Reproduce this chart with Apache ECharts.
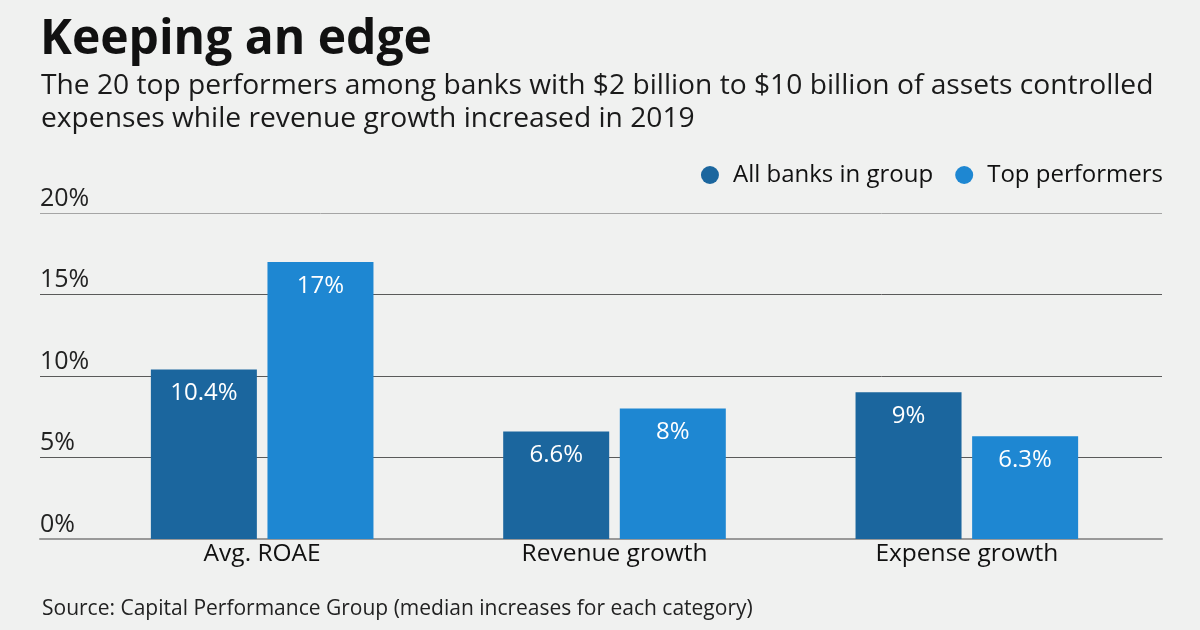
<!DOCTYPE html>
<html><head><meta charset="utf-8">
<script src="https://cdn.jsdelivr.net/npm/echarts@6/dist/echarts.min.js"></script>
<style>html,body{margin:0;padding:0;background:#f0f1f0;}#c{width:1200px;height:630px;}</style>
</head><body><div id="c"></div>
<script>
const categories = ['Avg. ROAE', 'Revenue growth', 'Expense growth'];
const allBanks = [10.4, 6.6, 9];
const topPerformers = [17, 8, 6.3];
const allBanksLabels = ['10.4%', '6.6%', '9%'];
const topLabels = ['17%', '8%', '6.3%'];
const seriesNames = ['All banks in group', 'Top performers'];

const FONT = '"Open Sans", "Noto Sans", sans-serif';
const chart = echarts.init(document.getElementById('c'));
chart.setOption({
  backgroundColor: '#f0f1f0',
  animation: false,
  textStyle: { fontFamily: FONT },
  title: [
    { text: 'Keeping an edge', left: 35, top: 11, textStyle: { fontFamily: FONT, fontSize: 48, fontWeight: 'bold', color: '#111' } },
    { text: 'The 20 top performers among banks with $2 billion to $10 billion of assets controlled\nexpenses while revenue growth increased in 2019', left: 36, top: 64, textStyle: { fontFamily: FONT, fontSize: 28.2, fontWeight: 'normal', color: '#1a1a1a', lineHeight: 33 } },
    { text: 'Source: Capital Performance Group (median increases for each category)', left: 37, top: 594, textStyle: { fontFamily: FONT, fontSize: 21, fontWeight: 'normal', color: '#222' } }
  ],
  legend: {
    right: 32, top: 158, icon: 'circle', itemWidth: 18, itemHeight: 18, itemGap: 22,
    textStyle: { fontFamily: FONT, fontSize: 24, color: '#111', padding: [0, 0, 0, 9] },
    data: seriesNames
  },
  color: ['#1b669e', '#1e87d2'],
  grid: [
    { left: 40, right: 38, top: 213, bottom: 91 },
    { left: 86, right: 57, top: 213, bottom: 91 }
  ],
  xAxis: [
    { gridIndex: 0, type: 'category', data: [''], axisLine: { show: true, lineStyle: { color: '#999', width: 2 } }, axisTick: { show: false }, axisLabel: { show: false } },
    { gridIndex: 1, type: 'category', data: categories, axisLine: { show: false }, axisTick: { show: false },
      axisLabel: { fontFamily: FONT, fontSize: 24.5, color: '#111', margin: 3 } }
  ],
  yAxis: [
    { gridIndex: 0, type: 'value', min: 0, max: 20, interval: 5,
      axisLine: { show: false }, axisTick: { show: false },
      axisLabel: { inside: true, margin: 0, verticalAlign: 'bottom', padding: [0, 0, 2, 0], formatter: '{value}%', fontFamily: FONT, fontSize: 25, color: '#222' },
      splitLine: { show: true, lineStyle: { color: ['#999', '#5a5a5a', '#5a5a5a', '#5a5a5a', '#a5a5a5'], width: 1 } } },
    { gridIndex: 1, type: 'value', min: 0, max: 20, interval: 5, show: false, splitLine: { show: false } }
  ],
  series: [
    { name: seriesNames[0], type: 'bar', xAxisIndex: 1, yAxisIndex: 1, data: allBanks, barWidth: 106, barGap: '10%',
      label: { show: true, position: 'insideTop', distance: 12, color: '#fff', fontFamily: FONT, fontSize: 24,
        formatter: p => allBanksLabels[p.dataIndex] } },
    { name: seriesNames[1], type: 'bar', xAxisIndex: 1, yAxisIndex: 1, data: topPerformers, barWidth: 106, barGap: '10%',
      label: { show: true, position: 'insideTop', distance: 12, color: '#fff', fontFamily: FONT, fontSize: 24,
        formatter: p => topLabels[p.dataIndex] } }
  ]
});
</script></body></html>
